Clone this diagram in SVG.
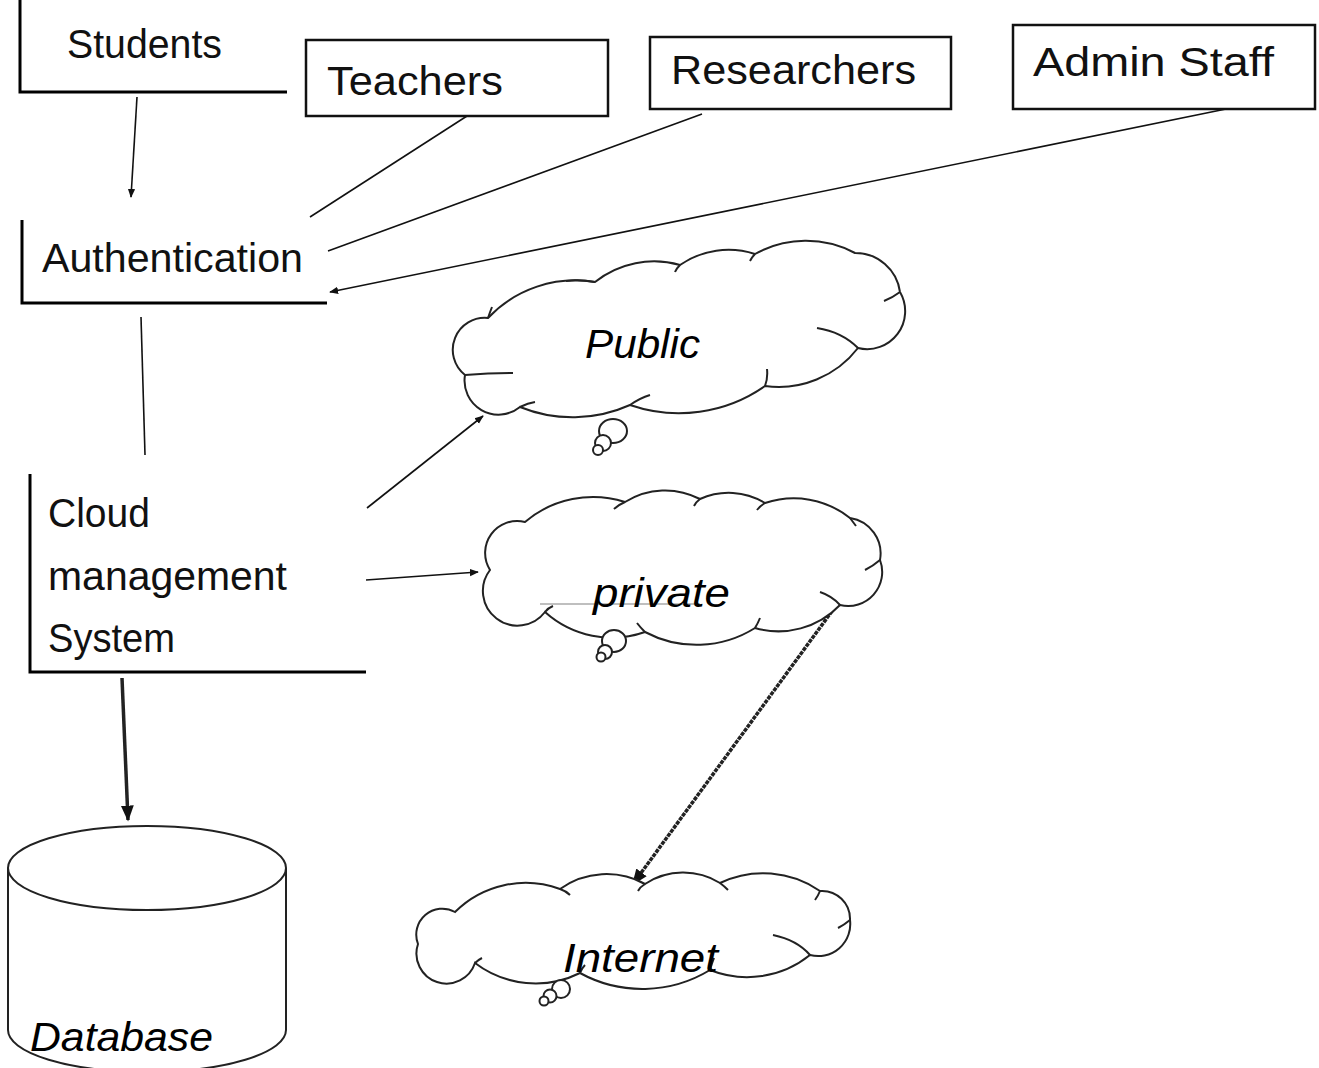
<svg xmlns="http://www.w3.org/2000/svg" width="1319" height="1068" viewBox="0 0 1319 1068">
<style>
.lbl{font-family:"Liberation Sans",Arial,sans-serif;font-size:40px;fill:#111}
.it{font-family:"Liberation Sans",Arial,sans-serif;font-size:40px;font-style:italic;fill:#000}
.box{fill:#fff;stroke:#111;stroke-width:2.5}
.bar{fill:none;stroke:#000;stroke-width:3}
.cloud{fill:#fff;stroke:#222;stroke-width:2}
.inner{fill:none;stroke:#222;stroke-width:2}
.conn{fill:none;stroke:#111;stroke-width:1.6}
.thick{fill:none;stroke:#222;stroke-width:3.5}
</style>
<defs>
<marker id="ah" viewBox="0 0 10 10" refX="9" refY="5" markerWidth="9" markerHeight="9" markerUnits="userSpaceOnUse" orient="auto">
<path d="M0,1 L10,5 L0,9 z" fill="#111"/>
</marker>
<marker id="ahb" viewBox="0 0 10 10" refX="9" refY="5" markerWidth="16" markerHeight="16" markerUnits="userSpaceOnUse" orient="auto">
<path d="M0,1 L10,5 L0,9 z" fill="#111"/>
</marker>
<linearGradient id="fadeR" x1="0" x2="1" y1="0" y2="0">
<stop offset="0" stop-color="#222"/><stop offset="0.8" stop-color="#555"/><stop offset="1" stop-color="#fff"/>
</linearGradient>
<linearGradient id="fadeL" x1="0" x2="1" y1="0" y2="0">
<stop offset="0" stop-color="#888"/><stop offset="1" stop-color="#fff"/>
</linearGradient>
</defs>

<g id="connectors">
<line class="conn" x1="137" y1="97" x2="131" y2="197" marker-end="url(#ah)"/>
<line class="conn" x1="467" y1="116" x2="310" y2="217"/>
<line class="conn" x1="702" y1="114" x2="328" y2="251"/>
<line class="conn" x1="1226" y1="109" x2="330" y2="292" marker-end="url(#ah)"/>
<line class="conn" x1="141" y1="317" x2="145" y2="455"/>
<line class="conn" x1="367" y1="508" x2="483" y2="416" marker-end="url(#ah)"/>
<line class="conn" x1="366" y1="580" x2="478" y2="572" marker-end="url(#ah)"/>
<line class="thick" x1="122" y1="678" x2="128" y2="820" marker-end="url(#ahb)"/>
<line class="thick" x1="835" y1="607" x2="633" y2="884" stroke="#333" stroke-dasharray="4 1" marker-end="url(#ahb)"/>
</g>

<g id="students">
<path class="bar" d="M20,0 V92 H287"/>
<text class="lbl" x="67" y="58" textLength="155" lengthAdjust="spacingAndGlyphs">Students</text>
</g>

<g id="teachers">
<rect class="box" x="306" y="40" width="302" height="76"/>
<text class="lbl" x="327" y="95" textLength="176" lengthAdjust="spacingAndGlyphs">Teachers</text>
</g>

<g id="researchers">
<rect class="box" x="650" y="37" width="301" height="72"/>
<text class="lbl" x="671" y="84" textLength="245" lengthAdjust="spacingAndGlyphs">Researchers</text>
</g>

<g id="admin-staff">
<rect class="box" x="1013" y="25" width="302" height="84"/>
<text class="lbl" x="1033" y="76" textLength="241" lengthAdjust="spacingAndGlyphs">Admin Staff</text>
</g>

<g id="authentication">
<path class="bar" d="M22,220 V303 H327"/>
<text class="lbl" x="42" y="272" textLength="261" lengthAdjust="spacingAndGlyphs">Authentication</text>
</g>

<g id="cloud-management-system">
<path class="bar" d="M30,474 V672 H366"/>
<text class="lbl" x="48" y="527" textLength="102" lengthAdjust="spacingAndGlyphs">Cloud</text>
<text class="lbl" x="48" y="590" textLength="239" lengthAdjust="spacingAndGlyphs">management</text>
<text class="lbl" x="48" y="652" textLength="127" lengthAdjust="spacingAndGlyphs">System</text>
</g>

<g id="public">
<path class="cloud" d="M465,375 A32,32 0 0 1 488,318 A120,120 0 0 1 595,282 A95,95 0 0 1 680,265 A85,85 0 0 1 755,254 A105,105 0 0 1 855,253 A45,45 0 0 1 900,292 A38,38 0 0 1 858,348 A100,100 0 0 1 765,386 A150,150 0 0 1 630,405 A140,140 0 0 1 520,407 A34,34 0 0 1 465,375 Z"/>
<path class="inner" d="M595,282 Q580,279 566,281 M680,265 Q676,269 675,272 M755,254 Q752,257 750,261 M900,292 Q892,298 884,301 M858,348 Q842,332 817,328 M765,386 Q768,378 767,369 M630,405 Q640,398 650,395 M520,407 Q528,403 535,402 M465,375 Q490,373 513,373 M488,318 Q490,312 492,307"/>
<ellipse class="cloud" cx="613" cy="431" rx="14" ry="12"/>
<circle class="cloud" cx="603" cy="443" r="8"/>
<circle class="cloud" cx="598" cy="450" r="5"/>
<text class="it" x="585" y="358" textLength="115" lengthAdjust="spacingAndGlyphs">Public</text>
</g>

<g id="private">
<path class="cloud" d="M490,570 A32,32 0 0 1 525,522 A105,105 0 0 1 625,502 A75,75 0 0 1 700,499 A70,70 0 0 1 765,503 A90,90 0 0 1 850,518 A36,36 0 0 1 880,560 A34,34 0 0 1 840,605 A85,85 0 0 1 755,628 A110,110 0 0 1 645,632 A100,100 0 0 1 545,612 A32,32 0 0 1 490,570 Z"/>
<path class="inner" d="M625,502 Q618,505 614,509 M700,499 Q696,502 694,506 M765,503 Q760,506 757,510 M850,518 Q853,522 856,526 M880,560 Q873,566 865,570 M840,605 Q832,596 820,592 M755,628 Q758,623 760,618 M645,632 Q640,627 637,623 M545,612 Q548,608 553,606"/>
<line x1="488" y1="571" x2="812" y2="571" stroke="url(#fadeR)" stroke-width="2"/>
<line x1="540" y1="604" x2="700" y2="604" stroke="#aaa" stroke-width="1.5"/>
<ellipse class="cloud" cx="614" cy="641" rx="12" ry="11"/>
<circle class="cloud" cx="605" cy="652" r="7"/>
<circle class="cloud" cx="601" cy="657" r="4.5"/>
<text class="it" x="593" y="607" textLength="137" lengthAdjust="spacingAndGlyphs">private</text>
</g>

<g id="internet">
<path class="cloud" d="M418,944 A26,26 0 0 1 455,912 A100,100 0 0 1 560,889 A80,80 0 0 1 645,884 A70,70 0 0 1 720,883 A100,100 0 0 1 820,891 A28,28 0 0 1 850,920 A32,32 0 0 1 810,955 A100,100 0 0 1 710,970 A130,130 0 0 1 580,973 A100,100 0 0 1 475,963 A30,30 0 0 1 418,944 Z"/>
<path class="inner" d="M560,889 Q566,891 570,895 M645,884 Q640,887 638,891 M720,883 Q724,886 728,890 M820,891 Q818,896 815,900 M850,920 Q844,925 838,928 M810,955 Q797,940 773,935 M710,970 Q712,963 714,958 M580,973 Q582,968 585,965 M475,963 Q478,960 482,958"/>
<line x1="415" y1="940" x2="548" y2="940" stroke="url(#fadeL)" stroke-width="1.5"/>
<line x1="470" y1="967" x2="530" y2="967" stroke="url(#fadeL)" stroke-width="1.5"/>
<circle class="cloud" cx="561" cy="989" r="9"/>
<circle class="cloud" cx="550" cy="996" r="6.5"/>
<circle class="cloud" cx="544" cy="1001" r="4.5"/>
<text class="it" x="563" y="972" textLength="155" lengthAdjust="spacingAndGlyphs">Internet</text>
</g>

<g id="database">
<path class="cloud" d="M8,868 V1030 A139,42 0 0 0 286,1030 V868"/>
<ellipse class="cloud" cx="147" cy="868" rx="139" ry="42"/>
<text class="it" x="30" y="1051" textLength="183" lengthAdjust="spacingAndGlyphs">Database</text>
</g>
</svg>
